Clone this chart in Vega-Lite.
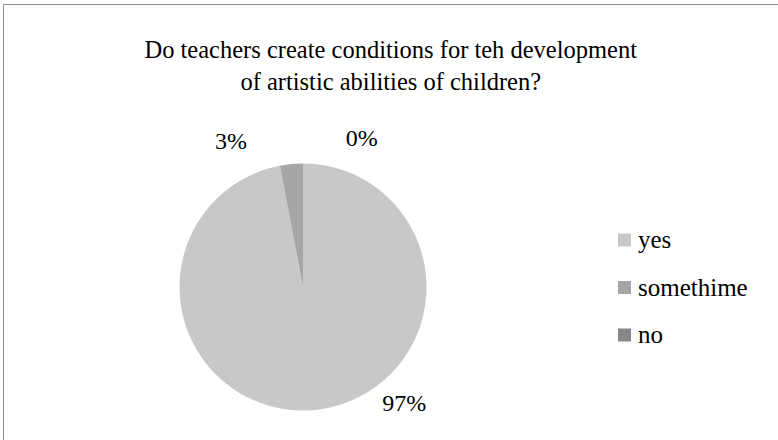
{
  "$schema": "https://vega.github.io/schema/vega-lite/v6.json",
  "width": 774.5,
  "height": 435.5,
  "autosize": {"type": "none"},
  "padding": {"left": 3.5, "top": 4.5, "right": 0, "bottom": 0},
  "background": "white",
  "config": {
    "view": {"stroke": null},
    "font": "Liberation Serif",
    "text": {"font": "Liberation Serif"},
    "legend": {"labelFont": "Liberation Serif"}
  },
  "title": {
    "text": ["Do teachers create conditions for teh development", "of artistic abilities of children?"],
    "fontSize": 24.5,
    "fontWeight": "normal",
    "font": "Liberation Serif",
    "color": "#000000",
    "anchor": "middle",
    "frame": "group",
    "offset": -91,
    "baseline": "top",
    "lineHeight": 32
  },
  "layer": [
    {
      "data": {"values": [{"frame": "border"}]},
      "mark": {"type": "rect", "fill": null, "stroke": "#8e8e8e", "strokeWidth": 1, "strokeDash": [774.5, 1210, 435.5]},
      "encoding": {}
    },
    {
      "data": {
        "values": [
          {"answer": "yes", "share": 0.97},
          {"answer": "somethime", "share": 0.03},
          {"answer": "no", "share": 0}
        ]
      },
      "encoding": {
        "theta": {"field": "share", "type": "quantitative", "stack": true},
        "order": {"field": "share", "type": "quantitative", "sort": "descending"}
      },
      "layer": [
        {
          "mark": {"type": "arc", "radius": 123.5, "xOffset": -87.75, "yOffset": 64.75, "strokeWidth": 0},
          "encoding": {
            "color": {
              "field": "answer",
              "type": "nominal",
              "scale": {"domain": ["yes", "somethime", "no"], "range": ["#c8c8c8", "#a6a6a6", "#878787"]},
              "legend": {
                "title": null,
                "orient": "none",
                "legendX": 608.5,
                "legendY": 223,
                "padding": 0,
                "symbolType": "square",
                "symbolSize": 169,
                "symbolStrokeWidth": 0,
                "labelFontSize": 25,
                "labelFont": "Liberation Serif",
                "labelColor": "#000000",
                "labelOffset": 1,
                "rowPadding": 21.5,
                "labelLimit": 300
              }
            }
          }
        },
        {
          "mark": {"type": "text", "font": "Liberation Serif", "radius": 140, "xOffset": -87.75, "yOffset": 64.75, "dx": 88, "dy": -15.7, "fontSize": 24, "align": "center", "baseline": "alphabetic", "color": "#000000"},
          "encoding": {
            "text": {"condition": {"test": "datum.answer === 'yes'", "field": "share", "type": "quantitative", "format": ".0%"}, "value": ""}
          }
        },
        {
          "mark": {"type": "text", "font": "Liberation Serif", "radius": 140, "xOffset": -87.75, "yOffset": 64.75, "dx": -58.8, "dy": 1.4, "fontSize": 24, "align": "center", "baseline": "alphabetic", "color": "#000000"},
          "encoding": {
            "text": {"condition": {"test": "datum.answer === 'somethime'", "field": "share", "type": "quantitative", "format": ".0%"}, "value": ""}
          }
        },
        {
          "mark": {"type": "text", "font": "Liberation Serif", "radius": 140, "xOffset": -87.75, "yOffset": 64.75, "dx": 58.7, "dy": -1, "fontSize": 24, "align": "center", "baseline": "alphabetic", "color": "#000000"},
          "encoding": {
            "text": {"condition": {"test": "datum.answer === 'no'", "field": "share", "type": "quantitative", "format": ".0%"}, "value": ""}
          }
        }
      ]
    }
  ]
}
